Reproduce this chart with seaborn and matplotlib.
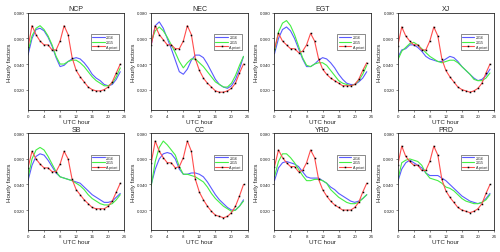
import numpy as np
import pandas as pd
import matplotlib
matplotlib.use("Agg")
import matplotlib.pyplot as plt
import seaborn as sns

hours = list(range(24))
regions = ["NCP", "NEC", "EGT", "XJ", "SB", "CC", "YRD", "PRD"]

# 2016 (blue)
y2016 = {
    "NCP": [0.047, 0.060, 0.067, 0.068, 0.066, 0.061, 0.054, 0.045, 0.038, 0.039, 0.042, 0.044,
            0.045, 0.044, 0.041, 0.037, 0.032, 0.029, 0.027, 0.024, 0.023, 0.024, 0.028, 0.034],
    "NEC": [0.055, 0.070, 0.073, 0.068, 0.060, 0.052, 0.043, 0.034, 0.032, 0.036, 0.043, 0.047,
            0.047, 0.045, 0.040, 0.034, 0.028, 0.024, 0.022, 0.021, 0.023, 0.028, 0.036, 0.046],
    "EGT": [0.048, 0.060, 0.067, 0.069, 0.066, 0.060, 0.052, 0.044, 0.038, 0.038, 0.040, 0.043,
            0.045, 0.044, 0.041, 0.037, 0.032, 0.028, 0.025, 0.024, 0.024, 0.026, 0.029, 0.034],
    "XJ":  [0.045, 0.051, 0.052, 0.055, 0.055, 0.053, 0.050, 0.046, 0.044, 0.043, 0.042, 0.042,
            0.044, 0.046, 0.045, 0.042, 0.038, 0.035, 0.032, 0.029, 0.027, 0.028, 0.031, 0.036],
    "SB":  [0.043, 0.055, 0.062, 0.064, 0.063, 0.059, 0.054, 0.049, 0.046, 0.045, 0.044, 0.043,
            0.042, 0.041, 0.038, 0.035, 0.032, 0.030, 0.028, 0.026, 0.026, 0.027, 0.030, 0.033],
    "CC":  [0.040, 0.052, 0.060, 0.064, 0.065, 0.064, 0.060, 0.052, 0.048, 0.048, 0.049, 0.049,
            0.048, 0.046, 0.042, 0.037, 0.032, 0.028, 0.025, 0.022, 0.020, 0.020, 0.023, 0.028],
    "YRD": [0.043, 0.053, 0.057, 0.058, 0.057, 0.056, 0.054, 0.050, 0.046, 0.045, 0.045, 0.045,
            0.043, 0.041, 0.038, 0.036, 0.033, 0.031, 0.029, 0.027, 0.026, 0.027, 0.029, 0.032],
    "PRD": [0.042, 0.052, 0.057, 0.059, 0.057, 0.055, 0.053, 0.049, 0.047, 0.047, 0.047, 0.045,
            0.043, 0.040, 0.037, 0.034, 0.031, 0.029, 0.027, 0.026, 0.025, 0.026, 0.029, 0.033],
}

# 2015 (green)
y2015 = {
    "NCP": [0.050, 0.062, 0.068, 0.070, 0.067, 0.062, 0.055, 0.046, 0.040, 0.040, 0.042, 0.043,
            0.043, 0.041, 0.038, 0.034, 0.030, 0.027, 0.025, 0.023, 0.023, 0.025, 0.030, 0.037],
    "NEC": [0.058, 0.066, 0.069, 0.066, 0.061, 0.055, 0.049, 0.042, 0.037, 0.041, 0.044, 0.044,
            0.041, 0.038, 0.034, 0.030, 0.026, 0.024, 0.022, 0.022, 0.025, 0.031, 0.039, 0.046],
    "EGT": [0.050, 0.065, 0.072, 0.074, 0.070, 0.063, 0.054, 0.045, 0.039, 0.038, 0.040, 0.041,
            0.041, 0.039, 0.035, 0.031, 0.027, 0.025, 0.024, 0.023, 0.024, 0.027, 0.032, 0.039],
    "XJ":  [0.043, 0.050, 0.053, 0.056, 0.057, 0.055, 0.052, 0.049, 0.046, 0.044, 0.042, 0.041,
            0.042, 0.043, 0.043, 0.041, 0.038, 0.035, 0.032, 0.028, 0.027, 0.027, 0.029, 0.033],
    "SB":  [0.045, 0.060, 0.067, 0.069, 0.067, 0.062, 0.056, 0.050, 0.046, 0.045, 0.044, 0.043,
            0.041, 0.039, 0.036, 0.032, 0.029, 0.027, 0.025, 0.024, 0.024, 0.025, 0.028, 0.032],
    "CC":  [0.039, 0.058, 0.069, 0.074, 0.071, 0.067, 0.063, 0.054, 0.048, 0.048, 0.047, 0.046,
            0.044, 0.042, 0.038, 0.033, 0.029, 0.026, 0.023, 0.021, 0.019, 0.020, 0.023, 0.027],
    "YRD": [0.046, 0.058, 0.064, 0.064, 0.061, 0.057, 0.052, 0.047, 0.043, 0.043, 0.044, 0.044,
            0.043, 0.041, 0.036, 0.033, 0.030, 0.028, 0.026, 0.025, 0.025, 0.026, 0.029, 0.032],
    "PRD": [0.043, 0.057, 0.059, 0.060, 0.059, 0.058, 0.055, 0.049, 0.045, 0.044, 0.043, 0.041,
            0.038, 0.037, 0.035, 0.032, 0.029, 0.027, 0.026, 0.025, 0.025, 0.026, 0.028, 0.032],
}

# A priori (red with markers)
yprior = {
    "NCP": [0.053, 0.070, 0.063, 0.058, 0.055, 0.055, 0.051, 0.051, 0.058, 0.070, 0.063, 0.045,
            0.035, 0.030, 0.026, 0.022, 0.020, 0.019, 0.019, 0.020, 0.022, 0.026, 0.033, 0.040],
    "NEC": [0.055, 0.070, 0.063, 0.059, 0.055, 0.055, 0.052, 0.052, 0.058, 0.070, 0.063, 0.044,
            0.035, 0.029, 0.025, 0.022, 0.019, 0.018, 0.018, 0.019, 0.021, 0.025, 0.033, 0.040],
    "EGT": [0.052, 0.064, 0.058, 0.055, 0.052, 0.052, 0.049, 0.050, 0.055, 0.064, 0.058, 0.044,
            0.036, 0.032, 0.029, 0.027, 0.025, 0.023, 0.023, 0.023, 0.024, 0.028, 0.035, 0.041],
    "XJ":  [0.054, 0.069, 0.062, 0.058, 0.055, 0.055, 0.051, 0.051, 0.058, 0.069, 0.062, 0.044,
            0.035, 0.030, 0.026, 0.022, 0.020, 0.019, 0.018, 0.019, 0.021, 0.025, 0.033, 0.040],
    "SB":  [0.053, 0.066, 0.060, 0.056, 0.053, 0.053, 0.050, 0.050, 0.056, 0.066, 0.060, 0.044,
            0.036, 0.032, 0.028, 0.025, 0.022, 0.021, 0.021, 0.021, 0.023, 0.027, 0.034, 0.041],
    "CC":  [0.057, 0.074, 0.066, 0.061, 0.057, 0.057, 0.053, 0.054, 0.061, 0.074, 0.066, 0.044,
            0.034, 0.028, 0.023, 0.019, 0.016, 0.015, 0.014, 0.015, 0.018, 0.023, 0.031, 0.040],
    "YRD": [0.054, 0.067, 0.061, 0.057, 0.054, 0.054, 0.050, 0.051, 0.057, 0.067, 0.061, 0.044,
            0.036, 0.031, 0.027, 0.024, 0.022, 0.020, 0.020, 0.020, 0.022, 0.026, 0.034, 0.041],
    "PRD": [0.055, 0.070, 0.062, 0.058, 0.055, 0.055, 0.051, 0.051, 0.058, 0.070, 0.063, 0.044,
            0.035, 0.030, 0.026, 0.022, 0.020, 0.019, 0.018, 0.019, 0.021, 0.025, 0.033, 0.040],
}

sns.set_theme(style="ticks")
plt.rcParams["font.family"] = ["Liberation Sans", "DejaVu Sans"]

fig, axes = plt.subplots(2, 4, figsize=(5.0, 2.53), dpi=100)
fig.subplots_adjust(left=0.056, right=0.988, top=0.945, bottom=0.085, wspace=0.28, hspace=0.24)

for ax, reg in zip(axes.flat, regions):
    sns.lineplot(x=hours, y=y2016[reg], ax=ax, color="#5a5aff", lw=0.8, label="2016")
    sns.lineplot(x=hours, y=y2015[reg], ax=ax, color="#44ee44", lw=0.8, label="2015")
    sns.lineplot(x=hours, y=yprior[reg], ax=ax, color="#ff4d4d", lw=0.8, label="A priori",
                 marker="s", markersize=1.1, markeredgewidth=0,
                 markerfacecolor="black", markeredgecolor="black")
    ax.set_xlim(0, 24)
    ax.set_ylim(0.004, 0.080)
    ax.set_xticks([0, 4, 8, 12, 16, 20, 24])
    ax.set_yticks([0.020, 0.040, 0.060, 0.080])
    ax.yaxis.set_major_formatter(matplotlib.ticker.FormatStrFormatter("%.3f"))
    ax.tick_params(labelsize=3.2, length=1.5, width=0.4, pad=1, direction="out")
    for s in ax.spines.values():
        s.set_linewidth(0.6)
    ax.set_title(reg, fontsize=5, pad=2)
    ax.set_xlabel("UTC hour", fontsize=4.5, labelpad=1)
    ax.set_ylabel("Hourly factors", fontsize=4.5, labelpad=1)
    ax.legend(fontsize=2.6, loc="upper right", bbox_to_anchor=(0.96, 0.80),
              frameon=True, fancybox=False, edgecolor="black", handlelength=3.5,
              borderpad=0.3, labelspacing=0.2, handletextpad=0.4).get_frame().set_linewidth(0.4)

fig.savefig("out.png", dpi=100)
